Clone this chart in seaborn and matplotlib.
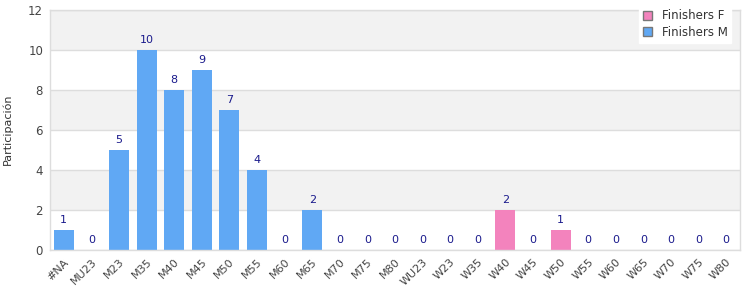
import matplotlib
matplotlib.use("Agg")
import matplotlib.pyplot as plt
import seaborn as sns
import pandas as pd
from matplotlib.patches import Patch

categories = ["#NA", "MU23", "M23", "M35", "M40", "M45", "M50", "M55", "M60", "M65",
              "M70", "M75", "M80", "WU23", "W23", "W35", "W40", "W45", "W50", "W55",
              "W60", "W65", "W70", "W75", "W80"]
values = [1, 0, 5, 10, 8, 9, 7, 4, 0, 2, 0, 0, 0, 0, 0, 0, 2, 0, 1, 0, 0, 0, 0, 0, 0]
series = ["Finishers M"] * 16 + ["Finishers F"] * 9
yticks = [0, 2, 4, 6, 8, 10, 12]

colors = {"Finishers F": "#F383BD", "Finishers M": "#60A8F4"}

df = pd.DataFrame({"cat": categories, "val": values, "series": series})

sns.set_style("white")
plt.rcParams['font.family'] = ['DejaVu Sans']

fig = plt.figure(figsize=(7.5, 3), dpi=100)
ax = fig.add_axes([50/750, 50/300, 690/750, 240/300])

# alternating bands
for i in range(6):
    if i % 2 == 1:
        ax.axhspan(i*2, i*2+2, color="#F2F2F2", zorder=0, lw=0)
for y in yticks:
    ax.axhline(y, color="#DDDDDD", lw=1, zorder=0.5)

sns.barplot(data=df, x="cat", y="val", hue="series", palette=colors, dodge=False,
            width=0.72, ax=ax, legend=False, zorder=2, order=categories,
            saturation=1, linewidth=0, edgecolor="none")

for i, v in enumerate(values):
    ax.text(i, v + 0.25, str(v), ha="center", va="bottom", fontsize=8, color="#1A1A8C",
            zorder=3)

ax.set_ylim(0, 12)
ax.set_xlim(-0.5, len(categories) - 0.5)
ax.set_yticks(yticks)
ax.set_yticklabels([str(y) for y in yticks], fontsize=8.5, color="#444444")
ax.set_xticks(range(len(categories)))
ax.set_xticklabels(categories, rotation=45, ha="right", rotation_mode="anchor",
                   fontsize=8, color="#444444")
ax.tick_params(axis="both", length=0, pad=5)
ax.set_xlabel("")
ax.set_ylabel("")
fig.text(2/750, 0.57, "Participación", rotation=90, ha="left", va="center",
         fontsize=8, color="#333333")
for s in ax.spines.values():
    s.set_color("#DDDDDD")
    s.set_linewidth(1)

handles = [Patch(facecolor=colors["Finishers F"], edgecolor="#777777", label="Finishers F"),
           Patch(facecolor=colors["Finishers M"], edgecolor="#777777", label="Finishers M")]
leg = fig.legend(handles=handles, loc="upper right", bbox_to_anchor=(737/750, 1.0),
                 frameon=True, fontsize=8.5, handlelength=0.8, handleheight=0.8,
                 borderpad=0.3, labelspacing=0.3, handletextpad=0.8, fancybox=False)
leg.get_frame().set_edgecolor("white")
leg.get_frame().set_facecolor("white")
leg.get_frame().set_alpha(1)
for t in leg.get_texts():
    t.set_color("#333333")

fig.savefig("out.png", dpi=100)
